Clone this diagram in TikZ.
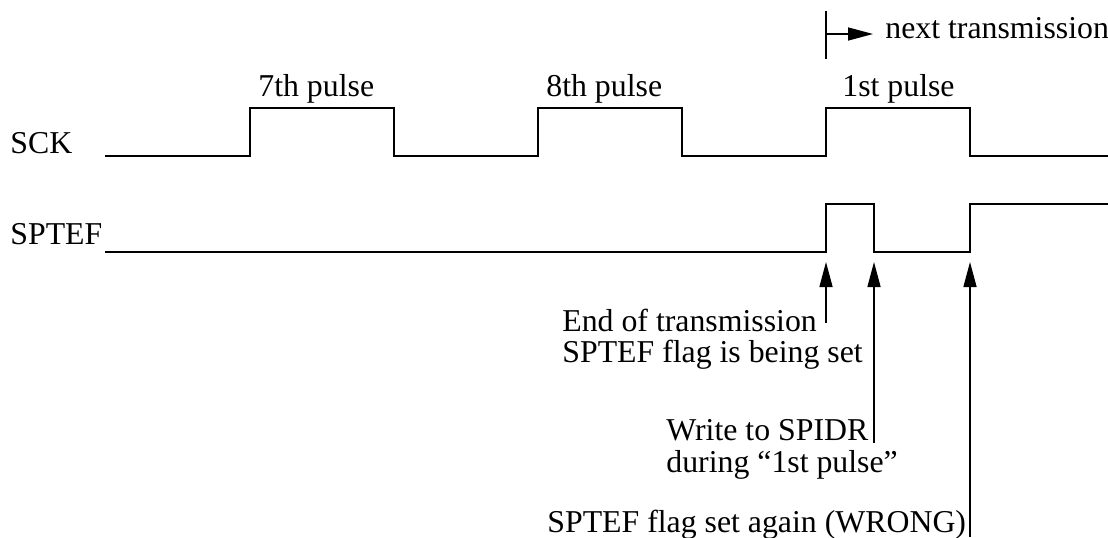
\documentclass[tikz,border=0pt]{standalone}
\usepackage{fontspec}
\setmainfont{Liberation Serif}
\usetikzlibrary{arrows.meta}
\begin{document}
\begin{tikzpicture}[x=0.5pt,y=-0.5pt,
  wave/.style={line width=0.75pt, line join=miter},
  lbl/.style={anchor=base west, inner sep=0pt, font=\fontsize{15.9}{15.9}\selectfont},
  pointer/.style={line width=0.75pt, -{Triangle[length=12.5pt,width=6.5pt]}},
  tickline/.style={line width=0.75pt}]
\useasboundingbox (0,0) rectangle (1108,537);
% signal labels
\node[lbl] (sck) at (10,153) {SCK};
\node[lbl] (sptef) at (10,244) {SPTEF};
% pulse labels
\node[lbl] (p7) at (258,96) {7th pulse};
\node[lbl] (p8) at (546,96) {8th pulse};
\node[lbl] (p1) at (842,96) {1st pulse};
% SCK waveform
\draw[wave] (105,156) -- (250,156) -- (250,108) -- (394,108) -- (394,156)
  -- (538,156) -- (538,108) -- (682,108) -- (682,156)
  -- (826,156) -- (826,108) -- (970,108) -- (970,156) -- (1108,156);
% SPTEF waveform
\coordinate (r1) at (826,252);
\coordinate (f1) at (874,252);
\coordinate (r2) at (970,252);
\draw[wave] (105,252) -- (r1) -- (826,204) -- (874,204) -- (f1)
  -- (r2) -- (970,204) -- (1108,204);
% next transmission marker
\coordinate (mtop) at (826,11);
\coordinate (mbot) at (826,59);
\coordinate (mmid) at (826,34);
\draw[tickline] (mtop) -- (mbot);
\node[lbl] (next) at (885,38) {next transmission};
\coordinate (mend) at (873,34);
\draw[pointer] (mmid) -- (mend);
% annotations
\node[lbl] (eot1) at (562,331) {End of transmission};
\node[lbl] (eot2) at (562,362) {SPTEF flag is being set};
\node[lbl] (wr1) at (666,440) {Write to SPIDR};
\node[lbl] (wr2) at (666,472) {during “1st pulse”};
\node[lbl] (wrong) at (547,532) {SPTEF flag set again (WRONG)};
% arrows
\coordinate (a1s) at (826,323);
\coordinate (a1e) at (826,262);
\coordinate (a2s) at (874,443);
\coordinate (a2e) at (874,262);
\coordinate (a3s) at (970,537);
\coordinate (a3e) at (970,262);
\draw[pointer] (a1s) -- (a1e);
\draw[pointer] (a2s) -- (a2e);
\draw[pointer] (a3s) -- (a3e);
\end{tikzpicture}
\end{document}
